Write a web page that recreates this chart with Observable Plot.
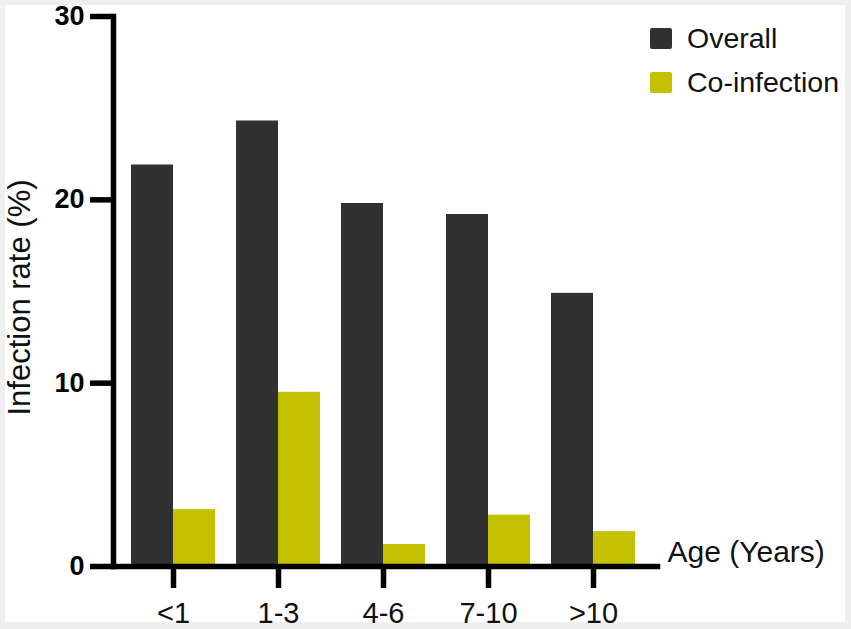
<!DOCTYPE html>
<html>
<head>
<meta charset="utf-8">
<script src="https://cdn.jsdelivr.net/npm/d3@7"></script>
<script src="https://cdn.jsdelivr.net/npm/@observablehq/plot@0.6"></script>
<style>
  html, body { margin: 0; padding: 0; background: #efefef; }
  #wrap { position: absolute; left: 5px; top: 5px; width: 840px; height: 617px; background: #ffffff; font-family: "Liberation Sans", Arial, sans-serif; }
  .leg { position: absolute; display: flex; align-items: center; font-size: 28.5px; color: #111; line-height: 1; }
  .sw { width: 22px; height: 21px; margin-right: 15px; border-radius: 2px; }
</style>
</head>
<body>
<div id="wrap">
  <div class="leg" style="left:645px; top:19px;"><div class="sw" style="background:#313131"></div>Overall</div>
  <div class="leg" style="left:645px; top:63px;"><div class="sw" style="background:#c3c100"></div>Co-infection</div>
</div>
<script>
const ages = ["<1", "1-3", "4-6", "7-10", ">10"];
const overall = [21.9, 24.3, 19.8, 19.2, 14.9];
const coinfection = [3.1, 9.5, 1.2, 2.8, 1.9];
const yTicks = [0, 10, 20, 30];
const seriesNames = ["Overall", "Co-infection"];
const seriesColors = ["#313131", "#c3c100"];

const overallData = ages.map((a, i) => ({age: a, value: overall[i]}));
const coData = ages.map((a, i) => ({age: a, value: coinfection[i]}));

const W = 840, H = 617;
const mL = 108, mR = 188, mT = 11, mB = 56;
const pIn = 0.2, pOut = 0.19;
const step = (W - mL - mR) / (ages.length - pIn + 2 * pOut);
const half = step * (1 - pIn) / 2;

const font = "'Liberation Sans', Arial, sans-serif";

const chart = Plot.plot({
  width: W,
  height: H,
  marginLeft: mL,
  marginRight: mR,
  marginTop: mT,
  marginBottom: mB,
  style: {fontFamily: font, background: "transparent", color: "#111", overflow: "visible"},
  x: {domain: ages, paddingInner: pIn, paddingOuter: pOut, align: 0.45, axis: null},
  y: {domain: [0, 30], axis: null},
  marks: [
    Plot.barY(overallData, {x: "age", y: "value", fill: seriesColors[0], insetRight: half}),
    Plot.barY(coData, {x: "age", y: "value", fill: seriesColors[1], insetLeft: half}),
    Plot.frame({anchor: "left", stroke: "#000", strokeWidth: 5.5}),
    Plot.frame({anchor: "bottom", stroke: "#000", strokeWidth: 5.5}),
    Plot.axisY({ticks: yTicks, tickSize: 23, tickPadding: 6, strokeWidth: 5.5, stroke: "#000",
      fontSize: 27, fontWeight: "bold", fill: "#000", label: null}),
    Plot.axisX({tickSize: 22, tickPadding: 14, strokeWidth: 5.5, stroke: "#000",
      fontSize: 29, fill: "#111", label: null}),
    Plot.text(["Age (Years)"], {frameAnchor: "bottom-right", textAnchor: "start", dx: 10, dy: -5,
      fontSize: 30, fill: "#111"}),
    Plot.text(["Infection rate (%)"], {frameAnchor: "left", textAnchor: "middle", rotate: -90, dx: -93, dy: 6,
      fontSize: 31, fill: "#111"})
  ]
});
chart.style.position = "absolute";
chart.style.left = "0px";
chart.style.top = "0px";
document.getElementById("wrap").prepend(chart);
</script>
</body>
</html>
